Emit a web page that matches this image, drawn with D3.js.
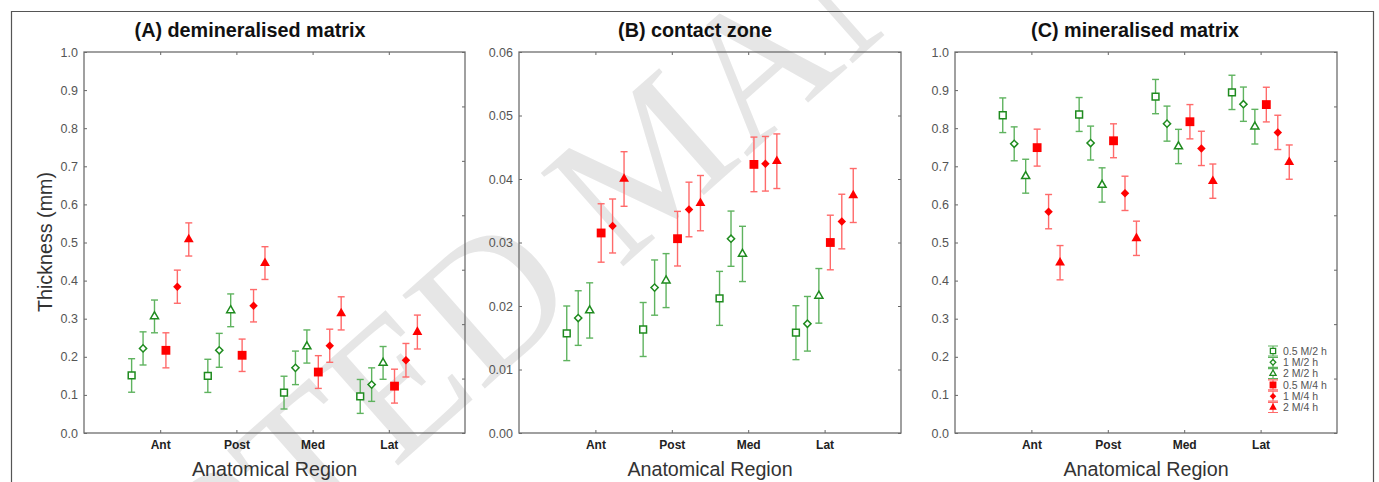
<!DOCTYPE html>
<html>
<head>
<meta charset="utf-8">
<script src="https://cdn.jsdelivr.net/npm/d3@7.9.0/dist/d3.min.js"></script>
<style>
  body { margin: 0; background: #fff; }
  svg { display: block; font-family: "Liberation Sans", Arial, sans-serif; }
</style>
</head>
<body>
<svg id="chart" width="1379" height="482"></svg>
<script>
// categories + series
const regions = ["Ant", "Post", "Med", "Lat"];
const seriesLabels = ["0.5 M/2 h", "1 M/2 h", "2 M/2 h", "0.5 M/4 h", "1 M/4 h", "2 M/4 h"];

// (A) demineralised matrix, rows = series, cols = regions
const demMean = [
  [0.151, 0.150, 0.106, 0.096],
  [0.222, 0.217, 0.171, 0.127],
  [0.306, 0.322, 0.227, 0.184],
  [0.217, 0.204, 0.160, 0.123],
  [0.384, 0.334, 0.229, 0.191],
  [0.508, 0.446, 0.314, 0.265]
];
const demErr = [
  [0.044, 0.0435, 0.043, 0.0445],
  [0.0435, 0.0445, 0.044, 0.044],
  [0.043, 0.043, 0.0435, 0.043],
  [0.046, 0.0425, 0.043, 0.0445],
  [0.0435, 0.0425, 0.0435, 0.044],
  [0.0435, 0.043, 0.0435, 0.0445]
];

// (B) contact zone
const zoneMean = [
  [0.0157, 0.0163, 0.0212, 0.0158],
  [0.0181, 0.0229, 0.0306, 0.0172],
  [0.0193, 0.0240, 0.0282, 0.0216],
  [0.0315, 0.0306, 0.0423, 0.0300],
  [0.0326, 0.0352, 0.0424, 0.0333],
  [0.0400, 0.0362, 0.0428, 0.0374]
];
const zoneErr = [
  [0.0043, 0.00425, 0.00425, 0.00425],
  [0.0043, 0.00435, 0.00435, 0.0043],
  [0.00435, 0.00425, 0.00435, 0.0043],
  [0.0046, 0.0043, 0.0043, 0.0043],
  [0.00425, 0.0043, 0.0043, 0.0043],
  [0.0043, 0.00435, 0.0043, 0.00425]
];

// (C) mineralised matrix
const minMean = [
  [0.834, 0.836, 0.883, 0.894],
  [0.759, 0.761, 0.812, 0.863],
  [0.674, 0.651, 0.752, 0.804],
  [0.749, 0.767, 0.817, 0.862],
  [0.581, 0.629, 0.747, 0.789],
  [0.447, 0.511, 0.661, 0.711]
];
const minErr = [
  [0.0455, 0.0445, 0.045, 0.045],
  [0.0445, 0.0445, 0.046, 0.045],
  [0.0445, 0.045, 0.045, 0.0455],
  [0.0485, 0.0445, 0.045, 0.0455],
  [0.045, 0.045, 0.045, 0.045],
  [0.045, 0.045, 0.045, 0.045]
];

const fracTicks = [0, 0.1, 0.2, 0.3, 0.4, 0.5, 0.6, 0.7, 0.8, 0.9, 1.0];
const zoneTicks = [0, 0.01, 0.02, 0.03, 0.04, 0.05, 0.06];

// marker styling per series
const GREEN = "#1f8b1f", GREEN_BAR = "#5fb35f";
const RED = "#ff0000", RED_BAR = "#ff6a6a";
const markers = [
  { type: d3.symbolSquare, size: 46, rot: 0, fill: "#fff", stroke: GREEN, bar: GREEN_BAR },
  { type: d3.symbolSquare, size: 26, rot: 45, fill: "#fff", stroke: GREEN, bar: GREEN_BAR },
  { type: d3.symbolTriangle, size: 28, rot: 0, fill: "#fff", stroke: GREEN, bar: GREEN_BAR },
  { type: d3.symbolSquare, size: 78, rot: 0, fill: RED, stroke: "none", bar: RED_BAR },
  { type: d3.symbolSquare, size: 36, rot: 45, fill: RED, stroke: "none", bar: RED_BAR },
  { type: d3.symbolTriangle, size: 42, rot: 0, fill: RED, stroke: "none", bar: RED_BAR }
];

const panels = [
  { title: "(A) demineralised matrix", mean: demMean, err: demErr, ticks: fracTicks, fmt: ".1f",
    left: 84, right: 465, titleX: 250, rightDiv: 7 },
  { title: "(B) contact zone", mean: zoneMean, err: zoneErr, ticks: zoneTicks, fmt: ".2f",
    left: 519, right: 901, titleX: 695, rightDiv: 6 },
  { title: "(C) mineralised matrix", mean: minMean, err: minErr, ticks: fracTicks, fmt: ".1f",
    left: 955, right: 1337, titleX: 1135, rightDiv: 7, legend: true }
];
const plotTop = 52, plotBottom = 433;

const svg = d3.select("#chart");

// faint watermark behind everything
svg.append("text")
  .attr("transform", "translate(650,157) rotate(-41.5)")
  .attr("text-anchor", "middle")
  .attr("dominant-baseline", "central")
  .style("font-family", "'Liberation Serif', 'DejaVu Serif', serif")
  .style("font-size", "190px")
  .attr("fill", "#e6e6e6")
  .text("ACCEPTED MANUSCRIPT");

// outer figure frame (runs off the bottom)
svg.append("path")
  .attr("d", "M11.5,490V11.5H1373.5V490")
  .attr("fill", "none")
  .attr("stroke", "#555")
  .attr("stroke-width", 1.2);

panels.forEach(p => {
  const g = svg.append("g");
  const yMax = p.ticks[p.ticks.length - 1];

  const x = d3.scalePoint().domain(regions).range([p.left, p.right]).padding(1);
  const y = d3.scaleLinear().domain([0, yMax]).range([plotBottom, plotTop]);
  const step = x.step();

  // left axis
  g.append("g")
    .attr("transform", `translate(${p.left},0)`)
    .call(d3.axisLeft(y).tickValues(p.ticks).tickFormat(d3.format(p.fmt)).tickSize(-3).tickPadding(6))
    .call(a => a.select(".domain").remove())
    .call(a => a.selectAll("line").attr("stroke", "#666"))
    .call(a => a.selectAll("text").attr("fill", "#555").style("font-size", "12.5px"));

  // right axis ticks (inside)
  g.append("g")
    .attr("transform", `translate(${p.right},0)`)
    .call(d3.axisRight(y).tickValues(d3.range(p.rightDiv + 1).map(i => yMax * i / p.rightDiv)).tickSize(-3).tickFormat(""))
    .call(a => a.select(".domain").remove())
    .call(a => a.selectAll("line").attr("stroke", "#666"));

  // top ticks
  g.append("g")
    .attr("transform", `translate(0,${plotTop})`)
    .call(d3.axisTop(x).tickSize(-3).tickFormat(""))
    .call(a => a.select(".domain").remove())
    .call(a => a.selectAll("line").attr("stroke", "#666"));

  // bottom axis
  g.append("g")
    .attr("transform", `translate(0,${plotBottom})`)
    .call(d3.axisBottom(x).tickSize(-3).tickPadding(7))
    .call(a => a.select(".domain").remove())
    .call(a => a.selectAll("line").attr("stroke", "#666"))
    .call(a => a.selectAll("text").attr("fill", "#222").style("font-size", "12px").style("font-weight", "bold"));

  // plot frame
  g.append("rect")
    .attr("x", p.left).attr("y", plotTop)
    .attr("width", p.right - p.left).attr("height", plotBottom - plotTop)
    .attr("fill", "none").attr("stroke", "#6e6e6e").attr("stroke-width", 1.3);

  // points
  const pts = [];
  p.mean.forEach((row, s) => row.forEach((v, r) => {
    pts.push({ s, cx: x(regions[r]) + (s - 2.5) * 0.15 * step, v, e: p.err[s][r] });
  }));

  const capW = 3.5;
  const bars = g.append("g").selectAll("g").data(pts).join("g")
    .attr("stroke", d => markers[d.s].bar).attr("stroke-width", 1.4);
  bars.append("line")
    .attr("x1", d => d.cx).attr("x2", d => d.cx)
    .attr("y1", d => y(d.v + d.e)).attr("y2", d => y(d.v - d.e));
  bars.append("line")
    .attr("x1", d => d.cx - capW).attr("x2", d => d.cx + capW)
    .attr("y1", d => y(d.v + d.e)).attr("y2", d => y(d.v + d.e));
  bars.append("line")
    .attr("x1", d => d.cx - capW).attr("x2", d => d.cx + capW)
    .attr("y1", d => y(d.v - d.e)).attr("y2", d => y(d.v - d.e));

  g.append("g").selectAll("path").data(pts).join("path")
    .attr("transform", d => `translate(${d.cx},${y(d.v)}) rotate(${markers[d.s].rot})`)
    .attr("d", d => d3.symbol(markers[d.s].type, markers[d.s].size)())
    .attr("fill", d => markers[d.s].fill)
    .attr("stroke", d => markers[d.s].stroke)
    .attr("stroke-width", 1.5);

  // titles
  svg.append("text")
    .attr("x", p.titleX).attr("y", 37)
    .attr("text-anchor", "middle")
    .style("font-size", "19.8px").style("font-weight", "bold")
    .attr("fill", "#111")
    .text(p.title);

  svg.append("text")
    .attr("x", (p.left + p.right) / 2).attr("y", 476)
    .attr("text-anchor", "middle")
    .style("font-size", "19.7px")
    .attr("fill", "#333")
    .text("Anatomical Region");

  if (p.legend) {
    const lg = g.append("g").attr("transform", "translate(1273,351)");
    const items = lg.selectAll("g").data(seriesLabels).join("g")
      .attr("transform", (d, i) => `translate(0,${i * 11.3})`);
    items.each(function (d, i) {
      const it = d3.select(this), m = markers[i];
      it.append("path").attr("d", "M-5,-5H5M0,-5V5M-5,5H5")
        .attr("stroke", m.bar).attr("stroke-width", 1.2).attr("fill", "none");
      it.append("path")
        .attr("transform", `rotate(${m.rot})`)
        .attr("d", d3.symbol(m.type, m.size * 0.6)())
        .attr("fill", m.fill).attr("stroke", m.stroke).attr("stroke-width", 1.3);
      it.append("text").attr("x", 10).attr("dy", "0.35em")
        .style("font-size", "10.5px").attr("fill", "#555").text(d);
    });
  }
});

svg.append("text")
  .attr("transform", "translate(52,242) rotate(-90)")
  .attr("text-anchor", "middle")
  .style("font-size", "19.7px")
  .attr("fill", "#333")
  .text("Thickness (mm)");
</script>
</body>
</html>
